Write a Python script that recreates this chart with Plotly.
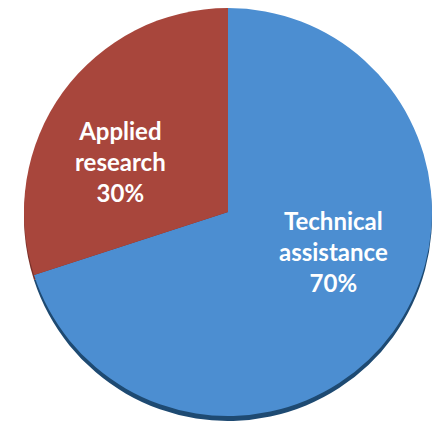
import plotly.graph_objects as go

categories = ["Technical assistance", "Applied research"]
values = [70, 30]
colors = ["#4C8ED1", "#A8463C"]
rim_colors = ["#1E4A72", "#7A3029"]

# page body has an 8px default margin, so the figure is drawn 8px in from the window edge
W, H = 433, 413
cx, cy_top, r = 220, 204, 204
shift = 5
cy = H - cy_top

total = sum(values)
label_text = [c.replace(" ", "<br>") + f"<br>{v / total * 100:.0f}%" for c, v in zip(categories, values)]
# label block centres (figure pixels from top-left)
label_pos = [(325, 243), (112, 153)]

fig = go.Figure()
# darker copy slightly below, to mimic the 3D rim
fig.add_trace(go.Pie(
    labels=categories, values=values, sort=False, direction="clockwise", rotation=0,
    marker=dict(colors=rim_colors, line=dict(width=0)),
    textinfo="none", hoverinfo="skip", showlegend=False,
    domain=dict(x=[(cx - r) / W, (cx + r) / W], y=[(cy - shift - r) / H, (cy - shift + r) / H]),
))
fig.add_trace(go.Pie(
    labels=categories, values=values, sort=False, direction="clockwise", rotation=0,
    marker=dict(colors=colors, line=dict(width=0)),
    textinfo="none", showlegend=False,
    domain=dict(x=[(cx - r) / W, (cx + r) / W], y=[(cy - r) / H, (cy + r) / H]),
))
for t, (px, py) in zip(label_text, label_pos):
    fig.add_annotation(
        text=t, x=px / W, y=1 - py / H, xref="paper", yref="paper",
        xanchor="center", yanchor="middle", showarrow=False, align="center",
        font=dict(color="white", size=24, family="Lato", weight="bold"),
    )
fig.update_layout(
    width=W, height=H, margin=dict(l=0, r=0, t=0, b=0),
    paper_bgcolor="white", plot_bgcolor="white",
)
fig.write_html("out.html")
